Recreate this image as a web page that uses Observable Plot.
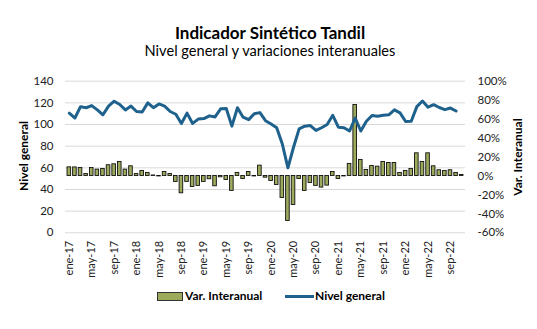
<!DOCTYPE html>
<html><head><meta charset="utf-8">
<script src="https://cdn.jsdelivr.net/npm/d3@7"></script>
<script src="https://cdn.jsdelivr.net/npm/@observablehq/plot@0.6"></script>
<style>
body{margin:0;background:#fff;font-family:Lato,"Open Sans",sans-serif;color:#000;}
#wrap{position:relative;width:537px;height:329px;overflow:hidden;background:#fff;}
#chart{position:absolute;left:0;top:0;}
.abs{position:absolute;white-space:nowrap;}
#title{left:0;width:540px;text-align:center;top:24px;font-size:17px;font-weight:bold;line-height:18px;}
#subtitle{left:0;width:540px;text-align:center;top:43px;font-size:14.6px;line-height:16px;}
.rot{transform:translate(-50%,-50%) rotate(-90deg);font-size:12px;font-weight:bold;line-height:14px;}
#leg1sw{left:157px;top:292px;width:24px;height:7px;background:#9bab5b;border:1px solid #333;}
#leg1tx{left:185px;top:289px;font-size:12px;font-weight:bold;line-height:14px;}
#leg2sw{left:285px;top:295px;width:29px;height:3px;background:#1f618d;}
#leg2tx{left:315px;top:289px;font-size:12px;font-weight:bold;line-height:14px;}
</style></head><body>
<div id="wrap">
  <div id="chart"></div>
  <div id="title" class="abs">Indicador Sintético Tandil</div>
  <div id="subtitle" class="abs">Nivel general y variaciones interanuales</div>
  <div class="abs rot" style="left:24px;top:156px;">Nivel general</div>
  <div class="abs rot" style="left:518px;top:157px;">Var. Interanual</div>
  <div id="leg1sw" class="abs"></div><div id="leg1tx" class="abs">Var. Interanual</div>
  <div id="leg2sw" class="abs"></div><div id="leg2tx" class="abs">Nivel general</div>
</div>
<script>
const mesesAbrev = ["ene","feb","mar","abr","may","jun","jul","ago","sep","oct","nov","dic"];
const anios = ["17","18","19","20","21","22"];
const meses = [];
for (const a of anios) for (const m of mesesAbrev) meses.push(m + "-" + a);
meses.splice(71); // ene-17 .. nov-22

const nivelGeneral = [
  110.5,106,116.5,115.5,117.5,113.5,109,117,121.5,118.5,113.5,117,
  112,111.5,120,115.5,119,117,112,109.5,101,110.5,101,105,
  105.5,108,107,114.5,114.8,98.5,115.5,106.8,104.5,110,111,103.5,
  100.5,97,82,60,79,96,98.5,99,94.5,97,100,108.5,
  97.5,97,94,106,94,103,108.3,107.7,108.5,109,113.5,110.7,
  102.8,103,116.5,121.7,116,118.3,115.7,113.7,115.2,112.5,null
];
const varInteranual = [
  9.1,9,8.4,2,8.4,6.7,7.4,11.3,12.3,14.8,6.7,10.2,
  2,5.3,3.2,0.5,-0.5,4.2,2,-6.3,-18.3,-6.3,-11.6,-10.5,
  -6.3,-3.5,-10.9,-1.4,-4.2,-15.8,3.2,-3.2,4.2,-0.5,10.9,-1.8,
  -5.3,-9.5,-23.2,-47.5,-30.6,-3.2,-15.8,-7.4,-10.5,-12.3,-10.2,4.2,
  -3.2,-0.5,12.7,74.9,16.9,6.3,10.6,9.8,14.8,13.7,13.7,3.2,
  5.3,7.4,23.9,14.8,23.9,10.2,6,5.3,6,3.2,1
];
const ticksIzq = [0,20,40,60,80,100,120,140];
const ticksDer = [-60,-40,-20,0,20,40,60,80,100];
const ticksX = meses.filter((d,i) => i % 4 === 0);

// right axis (-60%..100%) mapped onto left axis (0..140)
const toLeft = v => (v + 60) * 140 / 160;
const toRight = y => y * 160 / 140 - 60;

const data = meses.map((m,i) => ({mes:m, nivel:nivelGeneral[i], v:varInteranual[i]}));

const plot = Plot.plot({
  width: 537, height: 329,
  marginTop: 80.7, marginBottom: 96.7, marginLeft: 65, marginRight: 72,
  style:{fontFamily:"Lato, 'Open Sans', sans-serif", fontSize:"11px", color:"#222", background:"transparent"},
  x:{type:"band", domain: meses, padding:0.36, label:null},
  y:{domain:[0,140], label:null},
  marks:[
    Plot.gridY(ticksIzq, {stroke:"#d9d9d9", strokeOpacity:1, strokeWidth:1}),
    Plot.axisY(ticksIzq, {anchor:"left", tickSize:0, tickPadding:12, label:null, fontSize:11.5}),
    Plot.axisY(ticksDer.map(toLeft), {anchor:"right", tickSize:0, tickPadding:12, label:null,
      tickFormat: d => Math.round(toRight(d)) + "%", fontSize:11.5}),
    Plot.axisX(ticksX, {anchor:"bottom", tickSize:0, tickPadding:8, tickRotate:-90, label:null, fontSize:11}),
    Plot.barY(data, {x:"mes", y1: () => toLeft(0), y2: d => toLeft(d.v), fill:"#9bab5b", stroke:"#111", strokeWidth:0.9}),
    Plot.lineY(data, {x:"mes", y:"nivel", stroke:"#1f618d", strokeWidth:3, strokeLinejoin:"round"})
  ]
});
document.getElementById("chart").appendChild(plot);
</script>
</body></html>
